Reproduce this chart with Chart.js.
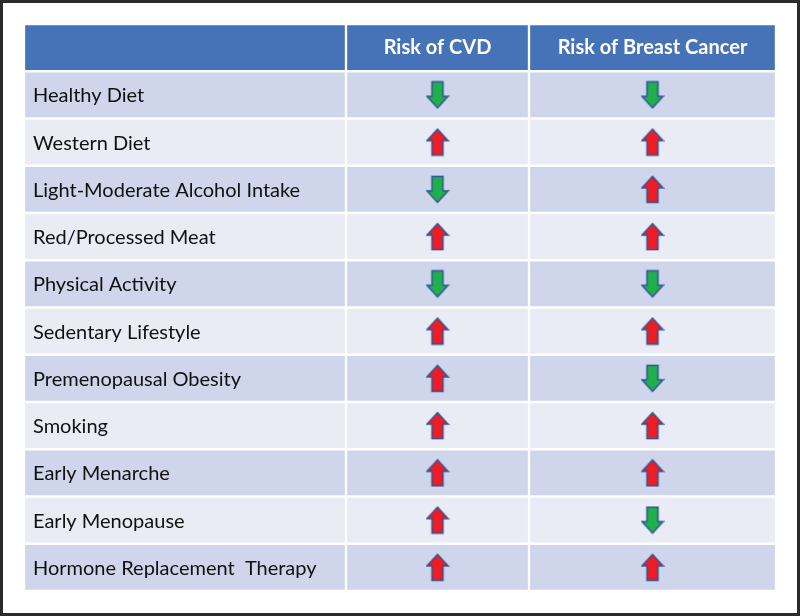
<!DOCTYPE html>
<html>
<head>
<meta charset="utf-8">
<script src="https://cdn.jsdelivr.net/npm/chart.js@4.4.1/dist/chart.umd.min.js"></script>
<style>
  html, body { margin: 0; padding: 0; background: #fff; }
</style>
</head>
<body>
<canvas id="riskChart" width="800" height="616"></canvas>
<script>
const factors = [
  "Healthy Diet",
  "Western Diet",
  "Light-Moderate Alcohol Intake",
  "Red/Processed Meat",
  "Physical Activity",
  "Sedentary Lifestyle",
  "Premenopausal Obesity",
  "Smoking",
  "Early Menarche",
  "Early Menopause",
  "Hormone Replacement  Therapy"
];
const columns = ["Risk of CVD", "Risk of Breast Cancer"];
// 1 = raises risk (red up arrow), -1 = lowers risk (green down arrow)
const cvdRisk = [-1, 1, -1, 1, -1, 1, 1, 1, 1, 1, 1];
const breastRisk = [-1, 1, 1, 1, -1, 1, -1, 1, 1, -1, 1];

// layout of the table, in table units (0 = left edge of table)
const colEdges = [0, 322, 505, 752];
const rowKeys = ["header"].concat(factors);

const headerBlue = "#4672B8";
const darkRow = "#CFD5EA";
const lightRow = "#E9EBF5";

function makeArrow(up) {
  let c = document.createElement("canvas");
  c.width = 24;
  c.height = 29;
  let g = c.getContext("2d");
  g.save();
  if (!up) {
    g.translate(0, 29);
    g.scale(1, -1);
  }
  g.beginPath();
  g.moveTo(12, 1.5);
  g.lineTo(22.5, 13);
  g.lineTo(17.5, 13);
  g.lineTo(17.5, 27.5);
  g.lineTo(6.5, 27.5);
  g.lineTo(6.5, 13);
  g.lineTo(1.5, 13);
  g.closePath();
  g.fillStyle = up ? "#EE1C25" : "#1FB04B";
  g.fill();
  g.lineWidth = 1.5;
  g.strokeStyle = "#2F5597";
  g.stroke();
  g.restore();
  return c;
}

let upArrow = makeArrow(true);
let downArrow = makeArrow(false);

function cellDataset(col) {
  return {
    type: "bar",
    indexAxis: "y",
    grouped: false,
    order: 2,
    data: rowKeys.map(() => [colEdges[col], colEdges[col + 1]]),
    backgroundColor: rowKeys.map((_, i) =>
      i === 0 ? headerBlue : i % 2 ? darkRow : lightRow
    ),
    borderColor: "#ffffff",
    borderWidth: 1.5,
    borderSkipped: false,
    barPercentage: 1,
    categoryPercentage: 1
  };
}

function arrowDataset(values, col) {
  let mid = (colEdges[col] + colEdges[col + 1]) / 2;
  return {
    type: "scatter",
    order: 1,
    data: values.map((v, i) => ({ x: mid, y: factors[i] })),
    pointStyle: values.map((v) => (v > 0 ? upArrow : downArrow)),
    pointRadius: 12,
    showLine: false
  };
}

const tableText = {
  id: "tableText",
  beforeDraw(chart) {
    let ctx = chart.ctx;
    ctx.save();
    ctx.fillStyle = "#fff";
    ctx.fillRect(0, 0, chart.width, chart.height);
    ctx.restore();
  },
  afterDatasetsDraw(chart) {
    let ctx = chart.ctx;
    let xs = chart.scales.x;
    let ys = chart.scales.y;
    ctx.save();
    ctx.textBaseline = "middle";

    ctx.font = "bold 20px Lato";
    ctx.fillStyle = "#ffffff";
    ctx.textAlign = "center";
    columns.forEach((name, i) => {
      let mid = (colEdges[i + 1] + colEdges[i + 2]) / 2;
      ctx.fillText(name, xs.getPixelForValue(mid), ys.getPixelForValue(0));
    });

    ctx.font = "20px Lato";
    ctx.fillStyle = "#111111";
    ctx.textAlign = "left";
    factors.forEach((name, i) => {
      ctx.fillText(name, xs.getPixelForValue(colEdges[0]) + 9, ys.getPixelForValue(i + 1) + 1);
    });

    ctx.lineWidth = 3;
    ctx.strokeStyle = "#2a2a2a";
    ctx.strokeRect(1.5, 1.5, chart.width - 3, chart.height - 3);
    ctx.restore();
  }
};

new Chart(document.getElementById("riskChart"), {
  data: {
    labels: rowKeys,
    datasets: [
      cellDataset(0),
      cellDataset(1),
      cellDataset(2),
      arrowDataset(cvdRisk, 1),
      arrowDataset(breastRisk, 2)
    ]
  },
  options: {
    responsive: false,
    animation: false,
    devicePixelRatio: 1,
    layout: { padding: { left: 24, right: 24, top: 24, bottom: 25 } },
    plugins: {
      legend: { display: false },
      tooltip: { enabled: false }
    },
    scales: {
      x: { type: "linear", min: colEdges[0], max: colEdges[3], display: false },
      y: { type: "category", labels: rowKeys, offset: true, display: false }
    }
  },
  plugins: [tableText]
});
</script>
</body>
</html>
